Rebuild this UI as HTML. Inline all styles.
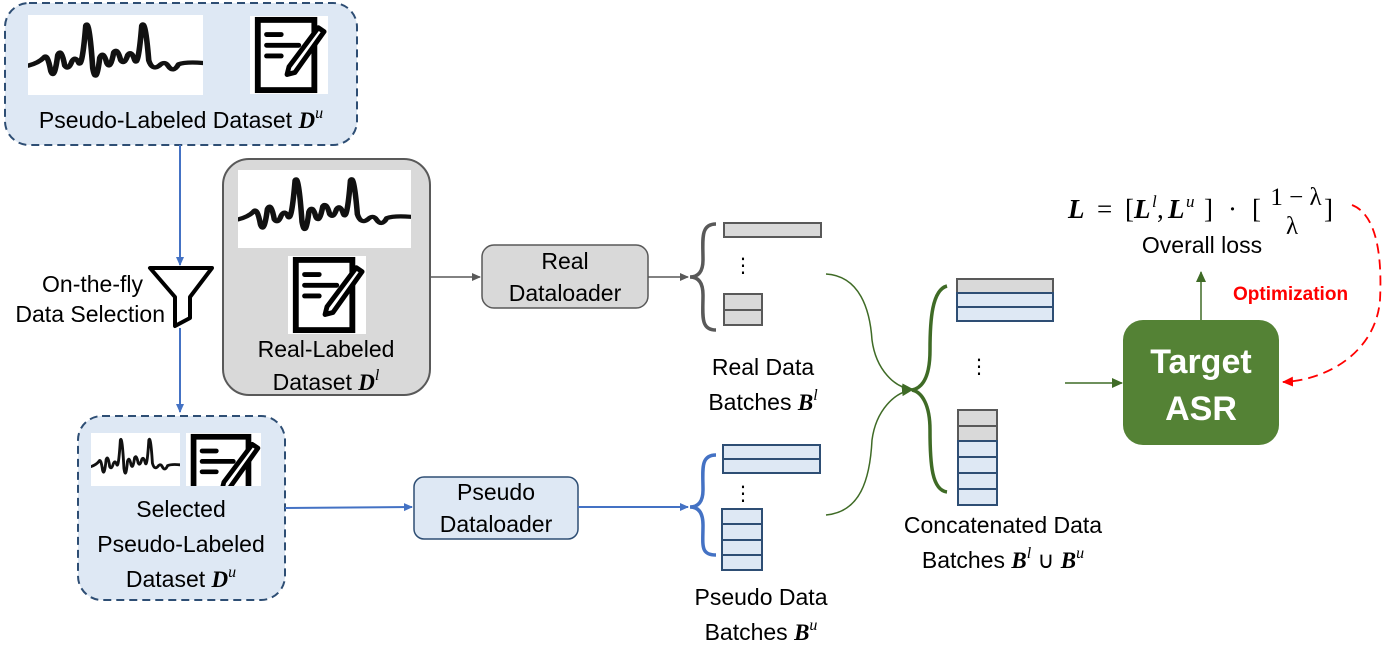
<!DOCTYPE html>
<html><head><meta charset="utf-8"><style>
html,body{margin:0;padding:0;background:#fff;}
svg{display:block;font-family:"Liberation Sans","DejaVu Sans",sans-serif;}
.t{font-size:23px;fill:#000;}
.m{font-family:"Liberation Serif",serif;font-weight:bold;font-style:italic;}
.s{font-family:"Liberation Serif",serif;font-style:italic;font-size:16px;}
</style></head><body>
<svg width="1386" height="647" viewBox="0 0 1386 647" xmlns="http://www.w3.org/2000/svg">
<defs>
<symbol id="wave" viewBox="0 0 100 60" preserveAspectRatio="none">
<rect width="100" height="60" fill="#fff"/>
<path fill="none" stroke="#111" stroke-width="3.2" stroke-linejoin="round" stroke-linecap="round" d="M0,38 Q6,36 9,32 Q11,28 13,42 Q15,50 17,30 Q19,24 21,38 Q23,42 25,35 Q27,30 29,36 Q31,40 33,8 Q35,2 37,40 Q39,54 41,32 Q43,26 45,36 Q47,42 49,28 Q51,24 53,34 Q55,38 57,30 Q59,26 61,34 Q63,40 65,8 Q67,2 69,34 Q71,42 75,38 Q78,34 80,38 Q83,44 86,37 Q90,35 100,36"/>
</symbol>
<symbol id="doc" viewBox="0 0 80 80">
<rect width="80" height="80" fill="#fff"/>
<rect x="8" y="4" width="58" height="72" fill="none" stroke="#000" stroke-width="6"/>
<line x1="17" y1="19" x2="32" y2="19" stroke="#000" stroke-width="5" stroke-linecap="round"/>
<line x1="17" y1="30" x2="50" y2="30" stroke="#000" stroke-width="5" stroke-linecap="round"/>
<line x1="17" y1="41" x2="32" y2="41" stroke="#000" stroke-width="5" stroke-linecap="round"/>
<path d="M70,12 L76,16 L46,58 L38,60 L40,52 Z" fill="#fff" stroke="#000" stroke-width="5" stroke-linejoin="round"/>
</symbol>
<marker id="ab" markerWidth="10" markerHeight="10" refX="8" refY="5" orient="auto" markerUnits="userSpaceOnUse"><path d="M0,1 L9,5 L0,9 Z" fill="#4472c4"/></marker>
<marker id="ag" markerWidth="10" markerHeight="10" refX="8" refY="5" orient="auto" markerUnits="userSpaceOnUse"><path d="M0,1 L9,5 L0,9 Z" fill="#595959"/></marker>
<marker id="agr" markerWidth="12" markerHeight="12" refX="10" refY="6" orient="auto" markerUnits="userSpaceOnUse"><path d="M0,1 L11,6 L0,11 Z" fill="#3f6b26"/></marker>
<marker id="ar" markerWidth="12" markerHeight="12" refX="10" refY="6" orient="auto" markerUnits="userSpaceOnUse"><path d="M0,1 L11,6 L0,11 Z" fill="#ff0000"/></marker>
</defs>

<rect x="5" y="3" width="352" height="142" rx="24" fill="#dee8f4" stroke="#2e4e74" stroke-width="2" stroke-dasharray="8,5"/>
<use href="#wave" x="28" y="15" width="175" height="80"/>
<use href="#doc" x="250" y="15" width="78" height="80"/>
<text class="t" x="181" y="128" font-size="24" text-anchor="middle">Pseudo-Labeled Dataset <tspan class="m">D</tspan><tspan class="s" dy="-10">u</tspan></text>

<line x1="180" y1="145" x2="180" y2="265" stroke="#4472c4" stroke-width="2" marker-end="url(#ab)"/>
<path d="M150,268 L212,268 L190,297 L190,318 L175,326 L175,297 Z" fill="#fff" stroke="#000" stroke-width="4" stroke-linejoin="round"/>
<line x1="180" y1="328" x2="180" y2="412" stroke="#4472c4" stroke-width="2" marker-end="url(#ab)"/>
<text class="t" x="143" y="292" text-anchor="end" font-size="20">On-the-fly</text>
<text class="t" x="165" y="322" text-anchor="end" font-size="20">Data Selection</text>

<rect x="223" y="159" width="207" height="236" rx="26" fill="#d9d9d9" stroke="#595959" stroke-width="2"/>
<use href="#wave" x="238" y="170" width="173" height="78"/>
<use href="#doc" x="288" y="255" width="78" height="80"/>
<text class="t" x="326" y="357" text-anchor="middle">Real-Labeled</text>
<text class="t" x="326" y="390" text-anchor="middle">Dataset <tspan class="m">D</tspan><tspan class="s" dy="-10">l</tspan></text>

<line x1="430" y1="277" x2="480" y2="277" stroke="#595959" stroke-width="1.5" marker-end="url(#ag)"/>
<rect x="482" y="245" width="166" height="63" rx="12" fill="#d9d9d9" stroke="#595959" stroke-width="1.5"/>
<text class="t" x="565" y="269" text-anchor="middle" font-size="22">Real</text>
<text class="t" x="565" y="301" text-anchor="middle" font-size="22">Dataloader</text>
<line x1="648" y1="277" x2="688" y2="277" stroke="#595959" stroke-width="1.5" marker-end="url(#ag)"/>

<path d="M716,224 C700,224 703,240 703,260 C703,272 698,277 690,277 C698,277 703,282 703,295 C703,315 700,330 716,330" fill="none" stroke="#595959" stroke-width="3.5"/>
<rect x="724" y="223" width="97" height="14" fill="#d9d9d9" stroke="#595959" stroke-width="2"/>
<text x="743" y="272" font-size="20" text-anchor="middle">⋮</text>
<rect x="724" y="294" width="38" height="31" fill="#d9d9d9" stroke="#595959" stroke-width="2"/>
<line x1="724" y1="310" x2="762" y2="310" stroke="#595959" stroke-width="2"/>
<text class="t" x="763" y="375" text-anchor="middle" font-size="22">Real Data</text>
<text class="t" x="763" y="410" font-size="22" text-anchor="middle">Batches <tspan class="m">B</tspan><tspan class="s" dy="-10">l</tspan></text>

<rect x="78" y="416" width="207" height="184" rx="24" fill="#dee8f4" stroke="#2e4e74" stroke-width="2" stroke-dasharray="8,5"/>
<use href="#wave" x="91" y="433" width="89" height="53"/>
<svg x="186" y="433" width="75" height="53" viewBox="0 0 80 56" preserveAspectRatio="xMinYMin slice"><use href="#doc" x="0" y="0" width="80" height="80"/></svg>
<text class="t" x="181" y="517" text-anchor="middle">Selected</text>
<text class="t" x="181" y="552" text-anchor="middle">Pseudo-Labeled</text>
<text class="t" x="181" y="587" text-anchor="middle">Dataset <tspan class="m">D</tspan><tspan class="s" dy="-10">u</tspan></text>

<line x1="285" y1="508" x2="412" y2="507" stroke="#4472c4" stroke-width="2" marker-end="url(#ab)"/>
<rect x="414" y="477" width="164" height="62" rx="10" fill="#dee8f4" stroke="#2e4e74" stroke-width="1.5"/>
<text class="t" x="496" y="500" text-anchor="middle" font-size="22">Pseudo</text>
<text class="t" x="496" y="532" text-anchor="middle" font-size="22">Dataloader</text>
<line x1="578" y1="507" x2="688" y2="507" stroke="#4472c4" stroke-width="2" marker-end="url(#ab)"/>

<path d="M716,455 C700,455 703,470 703,490 C703,502 698,507 690,507 C698,507 703,512 703,525 C703,545 700,555 716,555" fill="none" stroke="#4472c4" stroke-width="3.5"/>
<rect x="723" y="445" width="97" height="28" fill="#dee8f4" stroke="#2e4e74" stroke-width="2"/>
<line x1="723" y1="459" x2="820" y2="459" stroke="#2e4e74" stroke-width="2"/>
<text x="743" y="500" font-size="20" text-anchor="middle">⋮</text>
<rect x="722" y="509" width="40" height="61" fill="#dee8f4" stroke="#2e4e74" stroke-width="2"/>
<line x1="722" y1="524" x2="762" y2="524" stroke="#2e4e74" stroke-width="2"/>
<line x1="722" y1="540" x2="762" y2="540" stroke="#2e4e74" stroke-width="2"/>
<line x1="722" y1="555" x2="762" y2="555" stroke="#2e4e74" stroke-width="2"/>
<text class="t" x="761" y="605" text-anchor="middle" font-size="22">Pseudo Data</text>
<text class="t" x="761" y="640" font-size="22" text-anchor="middle">Batches <tspan class="m">B</tspan><tspan class="s" dy="-10">u</tspan></text>

<path d="M826,274 C860,276 870,310 872,340 C876,370 895,388 912,389" fill="none" stroke="#3f6b26" stroke-width="1.5" marker-end="url(#agr)"/>
<path d="M826,515 C860,512 870,480 872,440 C876,410 895,392 912,390" fill="none" stroke="#3f6b26" stroke-width="1.5" marker-end="url(#agr)"/>
<path d="M947,286 C932,290 930,320 930,350 C930,378 922,388 912,390 C922,392 930,405 930,430 C930,465 932,490 947,492" fill="none" stroke="#3f6b26" stroke-width="3.5"/>

<rect x="957" y="279" width="96" height="14" fill="#d9d9d9" stroke="#595959" stroke-width="2"/>
<rect x="957" y="293" width="96" height="28" fill="#dee8f4" stroke="#2e4e74" stroke-width="2"/>
<line x1="957" y1="307" x2="1053" y2="307" stroke="#2e4e74" stroke-width="2"/>
<text x="979" y="373" font-size="20" text-anchor="middle">⋮</text>
<rect x="958" y="410" width="39" height="31" fill="#d9d9d9" stroke="#595959" stroke-width="2"/>
<line x1="958" y1="426" x2="997" y2="426" stroke="#595959" stroke-width="2"/>
<rect x="958" y="441" width="39" height="64" fill="#dee8f4" stroke="#2e4e74" stroke-width="2"/>
<line x1="958" y1="457" x2="997" y2="457" stroke="#2e4e74" stroke-width="2"/>
<line x1="958" y1="473" x2="997" y2="473" stroke="#2e4e74" stroke-width="2"/>
<line x1="958" y1="489" x2="997" y2="489" stroke="#2e4e74" stroke-width="2"/>
<text class="t" x="1003" y="533" text-anchor="middle" font-size="22">Concatenated Data</text>
<text class="t" x="1003" y="568" font-size="22" text-anchor="middle">Batches <tspan class="m">B</tspan><tspan class="s" dy="-10">l</tspan><tspan dy="10"> ∪ </tspan><tspan class="m">B</tspan><tspan class="s" dy="-10">u</tspan></text>

<line x1="1065" y1="383" x2="1122" y2="383" stroke="#3f6b26" stroke-width="1.5" marker-end="url(#agr)"/>
<rect x="1123" y="320" width="156" height="125" rx="20" fill="#548235"/>
<text x="1201" y="373" text-anchor="middle" font-size="34" font-weight="bold" fill="#fff">Target</text>
<text x="1201" y="420" text-anchor="middle" font-size="34" font-weight="bold" fill="#fff">ASR</text>
<line x1="1201" y1="320" x2="1201" y2="272" stroke="#3f6b26" stroke-width="1.5" marker-end="url(#agr)"/>

<g font-family="Liberation Serif,serif" font-size="27">
<text x="1068" y="218" class="m" font-size="27">L</text>
<text x="1097" y="218">=</text>
<text x="1125" y="218">[</text>
<text x="1134" y="218" class="m" font-size="27">L</text>
<text x="1152" y="207" font-style="italic" font-size="17">l</text>
<text x="1157" y="218">,</text>
<text x="1168" y="218" class="m" font-size="27">L</text>
<text x="1186" y="207" font-style="italic" font-size="17">u</text>
<text x="1204" y="218">]</text>
<text x="1228" y="218">·</text>
<text x="1252" y="218">[</text>
<text x="1296" y="205" font-size="25" text-anchor="middle">1 − λ</text>
<text x="1292" y="234" font-size="25" text-anchor="middle">λ</text>
<text x="1324" y="218">]</text>
</g>
<text class="t" x="1202" y="253" text-anchor="middle" font-size="22">Overall loss</text>

<path d="M1352,205 C1378,215 1382,260 1380,300 C1376,350 1330,380 1283,382" fill="none" stroke="#ff0000" stroke-width="1.8" stroke-dasharray="10,6" marker-end="url(#ar)"/>
<text x="1233" y="300" font-size="19" font-weight="bold" fill="#ff0000">Optimization</text>
</svg>
</body></html>
